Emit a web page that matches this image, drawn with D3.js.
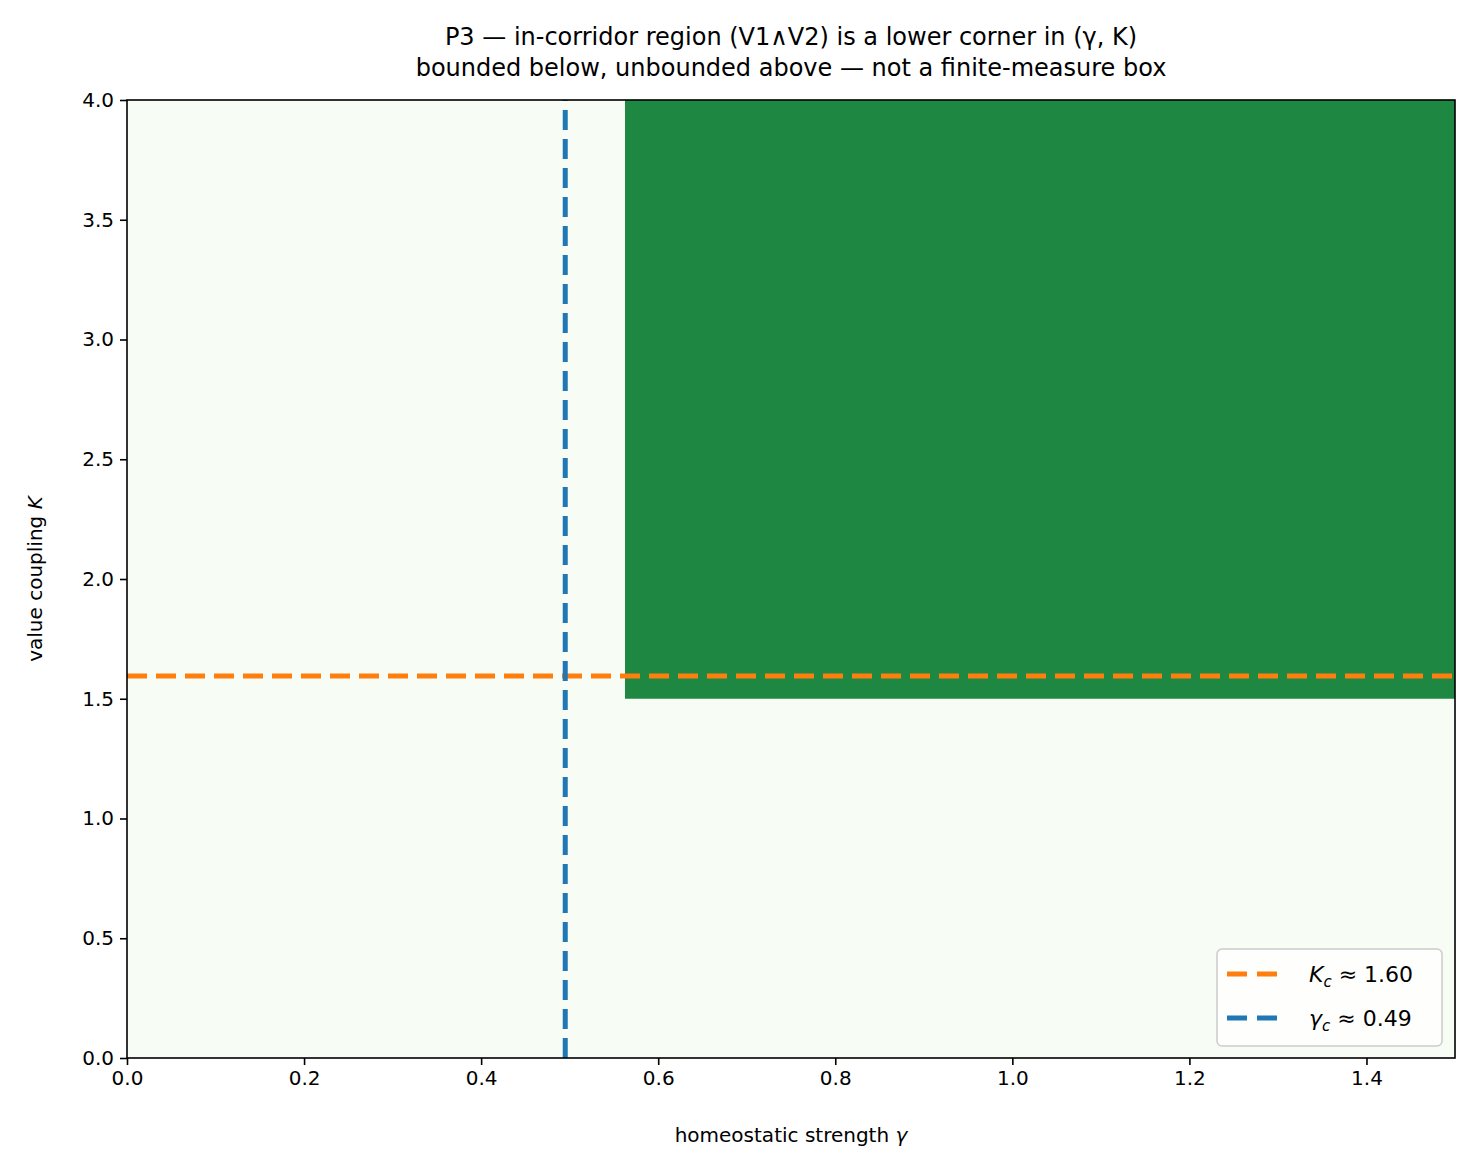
<!DOCTYPE html>
<html><head><meta charset="utf-8">
<script src="https://cdn.jsdelivr.net/npm/d3@7"></script>
<style>body{margin:0;background:#fff}</style>
</head><body>
<div id="chart"></div>
<script>
const xDomain = [0, 1.5];
const yDomain = [0, 4];
const xTicks = [0, 0.2, 0.4, 0.6, 0.8, 1.0, 1.2, 1.4];
const yTicks = [0, 0.5, 1.0, 1.5, 2.0, 2.5, 3.0, 3.5, 4.0];
// in-corridor region: gamma >= 0.5625, K >= 1.5
const region = [{x0: 0.5625, x1: 1.5, y0: 1.5, y1: 4}];
const Kc = 1.595;
const gammac = 0.495;

const W = 1476, H = 1170;
const m = {left: 127, right: 21, top: 100, bottom: 112};
const svg = d3.select("#chart").append("svg")
    .attr("width", W).attr("height", H)
    .style("font-family", "DejaVu Sans");

const x = d3.scaleLinear().domain(xDomain).range([m.left, W - m.right]);
const y = d3.scaleLinear().domain(yDomain).range([H - m.bottom, m.top]);

svg.append("rect")
    .attr("x", x(0)).attr("y", y(4))
    .attr("width", x(1.5) - x(0)).attr("height", y(0) - y(4))
    .attr("fill", "#f7fcf5");

svg.selectAll(".reg").data(region).enter().append("rect")
    .attr("x", d => x(d.x0)).attr("y", d => y(d.y1))
    .attr("width", d => x(d.x1) - x(d.x0))
    .attr("height", d => y(d.y0) - y(d.y1))
    .attr("fill", "#1e8742");

svg.append("line")
    .attr("x1", x(0)).attr("x2", x(1.5))
    .attr("y1", y(Kc)).attr("y2", y(Kc))
    .attr("stroke", "#ff7f0e").attr("stroke-width", 5)
    .attr("stroke-dasharray", "20,9");
svg.append("line")
    .attr("x1", x(gammac)).attr("x2", x(gammac))
    .attr("y1", y(0)).attr("y2", y(4))
    .attr("stroke", "#1f77b4").attr("stroke-width", 5)
    .attr("stroke-dasharray", "20,9");

svg.append("rect")
    .attr("x", x(0)).attr("y", y(4))
    .attr("width", x(1.5) - x(0)).attr("height", y(0) - y(4))
    .attr("fill", "none").attr("stroke", "#000").attr("stroke-width", 1.6);

const xAxis = svg.append("g").attr("transform", `translate(0,${y(0)})`)
    .call(d3.axisBottom(x).tickValues(xTicks).tickFormat(d3.format(".1f")).tickSize(7).tickPadding(6));
const yAxis = svg.append("g").attr("transform", `translate(${x(0)},0)`)
    .call(d3.axisLeft(y).tickValues(yTicks).tickFormat(d3.format(".1f")).tickSize(7).tickPadding(6));
[xAxis, yAxis].forEach(a => {
    a.select(".domain").remove();
    a.selectAll("line").attr("stroke-width", 1.6);
    a.selectAll("text").attr("font-size", 20).attr("font-family", "DejaVu Sans");
});

svg.append("text").attr("x", (x(0) + x(1.5)) / 2).attr("y", 1142)
    .attr("text-anchor", "middle").attr("font-size", 20)
    .html('homeostatic strength <tspan font-style="italic">γ</tspan>');
svg.append("text")
    .attr("transform", `translate(42,${(y(0) + y(4)) / 2}) rotate(-90)`)
    .attr("text-anchor", "middle").attr("font-size", 20)
    .html('value coupling <tspan font-style="italic">K</tspan>');

const title = ["P3 — in-corridor region (V1∧V2) is a lower corner in (γ, K)",
               "bounded below, unbounded above — not a finite-measure box"];
svg.selectAll(".title").data(title).enter().append("text")
    .attr("x", (x(0) + x(1.5)) / 2).attr("y", (d, i) => 45 + i * 31)
    .attr("text-anchor", "middle").attr("font-size", 24).text(d => d);

// legend
const lg = svg.append("g").attr("transform", "translate(1217,949)");
lg.append("rect").attr("width", 225).attr("height", 97).attr("rx", 5)
    .attr("fill", "#fff").attr("fill-opacity", 0.8).attr("stroke", "#ccc").attr("stroke-width", 1.5);
const items = [
    {c: "#ff7f0e", sym: "K", v: "1.60"},
    {c: "#1f77b4", sym: "γ", v: "0.49"}
];
items.forEach((d, i) => {
    const yy = 25 + i * 44;
    lg.append("line").attr("x1", 10).attr("x2", 62).attr("y1", yy).attr("y2", yy)
        .attr("stroke", d.c).attr("stroke-width", 5).attr("stroke-dasharray", "20,10");
    lg.append("text").attr("x", 92).attr("y", yy + 8).attr("font-size", 22)
        .html(`<tspan font-style="italic">${d.sym}</tspan><tspan font-style="italic" font-size="15" dy="5">c</tspan><tspan dy="-5"> ≈ ${d.v}</tspan>`);
});
</script>
</body></html>
